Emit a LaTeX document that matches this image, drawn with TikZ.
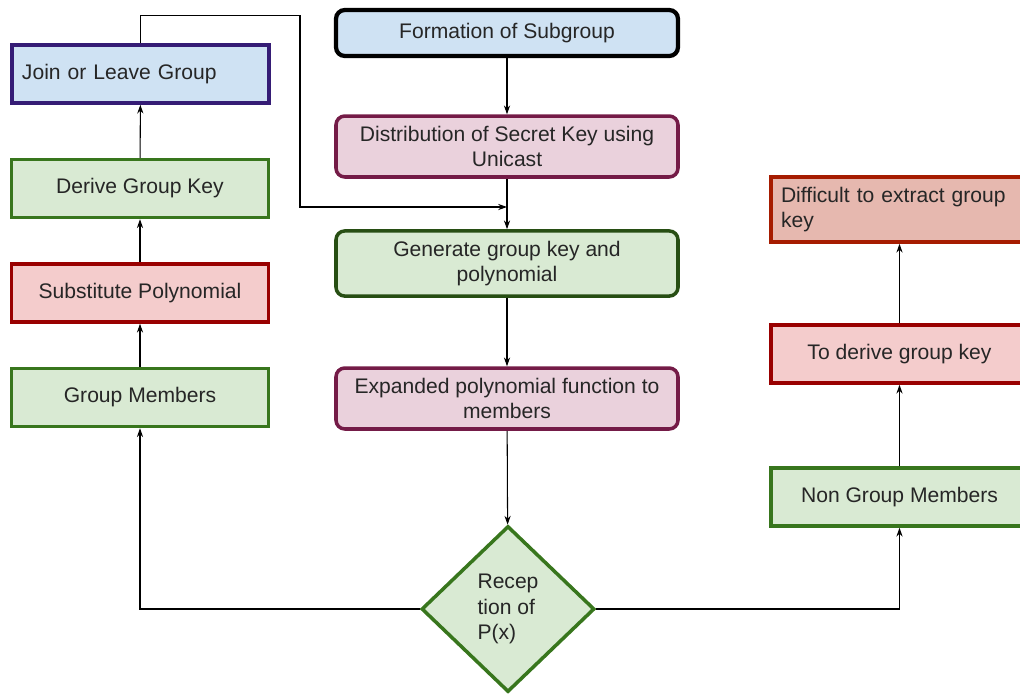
\documentclass[tikz,border=0pt]{standalone}
\usepackage{fontspec}
\setmainfont{Liberation Sans}
\usepackage{xcolor}
\usetikzlibrary{arrows.meta,shapes.geometric,positioning}
\definecolor{bluefill}{HTML}{CFE2F3}
\definecolor{bluedraw}{HTML}{351C75}
\definecolor{greenfill}{HTML}{D9EAD3}
\definecolor{greendraw}{HTML}{38761D}
\definecolor{darkgreen}{HTML}{274E13}
\definecolor{redfill}{HTML}{F4CCCC}
\definecolor{reddraw}{HTML}{990000}
\definecolor{pinkfill}{HTML}{EAD1DC}
\definecolor{pinkdraw}{HTML}{741B47}
\definecolor{berryfill}{HTML}{E6B8AF}
\definecolor{berrydraw}{HTML}{A61C00}

\begin{document}
\begin{tikzpicture}[>={Stealth[length=5pt,width=3.5pt]},
  every node/.style={font=\fontsize{12}{14.5}\selectfont,text=black!85},
  box/.style={draw,line width=2pt,minimum width=5.14cm,minimum height=1.16cm,inner sep=0.2cm,align=center},
  lbox/.style={box,text width=4.74cm,align=left},
  rbox/.style={box,rounded corners=5pt,minimum width=6.84cm},
  greenbox/.style={fill=greenfill,draw=greendraw},
  redbox/.style={fill=redfill,draw=reddraw},
  pinkbox/.style={fill=pinkfill,draw=pinkdraw},
  link/.style={->,line width=0.6pt}]
\useasboundingbox (0,0) rectangle (20.4,-13.9);
\node[lbox,fill=bluefill,draw=bluedraw](join)at(2.81,-1.48){Join or Leave Group};
\node[box,greenbox](derive)at(2.8,-3.77){Derive Group Key};
\node[box,redbox](subst)at(2.8,-5.86){Substitute Polynomial};
\node[box,greenbox](members)at(2.8,-7.95){Group Members};
\node[rbox,fill=bluefill,draw=black,line width=2.4pt,minimum height=0.92cm](formation)at(10.14,-0.66){Formation of Subgroup};
\node[rbox,pinkbox](distrib)at(10.14,-2.93){Distribution of Secret Key using\\Unicast};
\node[rbox,fill=greenfill,draw=darkgreen,minimum height=1.18cm](generate)at(10.14,-5.27){Generate group key and\\polynomial};
\node[rbox,pinkbox](expanded)at(10.14,-7.97){Expanded polynomial function to\\members};
\node[diamond,fill=greenfill,draw=greendraw,line width=2pt,minimum width=3.46cm,minimum height=3.32cm,inner sep=0pt,align=left](recv)at(10.16,-12.18){Recep\\tion of\\P(x)};
\node[lbox,fill=berryfill,draw=berrydraw,minimum height=1.18cm](difficult)at(17.99,-4.19){Difficult to extract group key};
\node[box,redbox](toderive)at(17.99,-7.08){To derive group key};
\node[box,greenbox](nongroup)at(17.99,-9.94){Non Group Members};
\coordinate(merge)at(10.14,-4.14);
\draw[link](formation)--(distrib);
\draw[link](distrib)--(generate);
\draw[link](generate)--(expanded);
\draw[link](expanded)--(recv);
\draw[link](join.north)--++(0,0.56)-|(6.0,-4.14)--(merge);
\draw[link](recv.west)-|(members.south);
\draw[link](members)--(subst);
\draw[link](subst)--(derive);
\draw[link](derive)--(join);
\draw[link](recv.east)-|(nongroup.south);
\draw[link](nongroup)--(toderive);
\draw[link](toderive)--(difficult);
\end{tikzpicture}
\end{document}
